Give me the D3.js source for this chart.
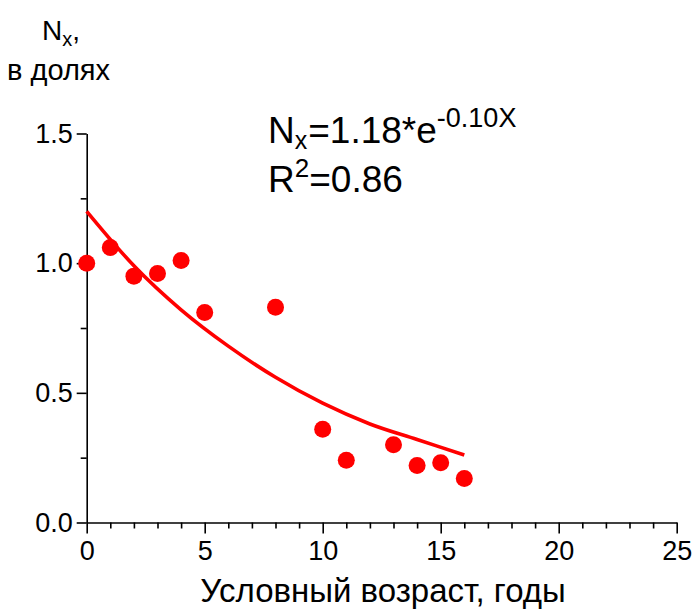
<!DOCTYPE html>
<html><head><meta charset="utf-8">
<script src="https://cdn.jsdelivr.net/npm/d3@7"></script>
<style>
html,body{margin:0;padding:0;background:#fff;}
text{font-family:"Liberation Sans",Arial,sans-serif;fill:#000;}
</style></head>
<body>
<svg id="c" width="696" height="611"></svg>
<script>
// Data
const ageX = [0, 1, 2, 3, 4, 5, 8, 10, 11, 13, 14, 15, 16];
const nxValues = [1.00, 1.06, 0.95, 0.96, 1.01, 0.81, 0.83, 0.36, 0.24, 0.30, 0.22, 0.23, 0.17];
// fitted curve points
const fitX = [0, 2, 4, 6, 8, 10, 12, 14, 16];
const fitY = [1.20, 0.99, 0.82, 0.68, 0.56, 0.46, 0.38, 0.32, 0.26];
const xMajorTicks = [0, 5, 10, 15, 20, 25];
const yMajorTicks = [0, 0.5, 1.0, 1.5];
const yMinorTicks = [0.25, 0.75, 1.25];

const svg = d3.select("#c");
const x = d3.scaleLinear().domain([0, 25]).range([86.7, 676.7]);
const y = d3.scaleLinear().domain([0, 1.5]).range([522.5, 133.5]);

// minor ticks
const xMinor = d3.range(0, 26).filter(v => v % 5 !== 0);
const gxm = svg.append("g").attr("transform", `translate(0,${y(0)})`)
  .call(d3.axisBottom(x).tickValues(xMinor).tickSize(6).tickFormat(""));
const gym = svg.append("g").attr("transform", `translate(${x(0)},0)`)
  .call(d3.axisLeft(y).tickValues(yMinorTicks).tickSize(6).tickFormat(""));
[gxm, gym].forEach(g => { g.select(".domain").remove(); g.selectAll("line").attr("stroke", "#000").attr("stroke-width", 1.6); });

const gx = svg.append("g").attr("transform", `translate(0,${y(0)})`)
  .call(d3.axisBottom(x).tickValues(xMajorTicks).tickSize(11).tickSizeOuter(0).tickPadding(7).tickFormat(d3.format("d")));
const gy = svg.append("g").attr("transform", `translate(${x(0)},0)`)
  .call(d3.axisLeft(y).tickValues(yMajorTicks).tickSize(10).tickSizeOuter(0).tickPadding(4).tickFormat(d3.format(".1f")));
[gx, gy].forEach(g => {
  g.select(".domain").attr("stroke", "#000").attr("stroke-width", 1.6);
  g.selectAll("line").attr("stroke", "#000").attr("stroke-width", 1.6);
  g.selectAll("text").attr("font-size", 27).attr("font-family", "Liberation Sans, Arial, sans-serif").attr("fill", "#000");
});

// fitted curve
const line = d3.line().x((d, i) => x(fitX[i])).y(d => y(d)).curve(d3.curveMonotoneX);
svg.append("path").datum(fitY).attr("d", line)
  .attr("fill", "none").attr("stroke", "#ff0000").attr("stroke-width", 3.6);

// points
svg.append("g").selectAll("circle").data(nxValues).join("circle")
  .attr("cx", (d, i) => x(ageX[i])).attr("cy", d => y(d)).attr("r", 8.5).attr("fill", "#ff0000");

// axis titles
svg.append("text").attr("x", 383).attr("y", 602).attr("text-anchor", "middle")
  .attr("font-size", 33).text("Условный возраст, годы");

const yl = svg.append("text").attr("x", 42).attr("y", 40).attr("font-size", 28);
yl.append("tspan").text("N");
yl.append("tspan").attr("font-size", 20).attr("dy", 6).text("x");
yl.append("tspan").attr("dy", -6).text(",");
svg.append("text").attr("x", 7).attr("y", 80).attr("font-size", 29).text("в долях");

// equation
const eq = svg.append("text").attr("x", 268).attr("y", 143).attr("font-size", 37);
eq.append("tspan").text("N");
eq.append("tspan").attr("font-size", 25).attr("dy", 6).text("x");
eq.append("tspan").attr("dy", -6).attr("dx", 1).text("=1.18*e");
eq.append("tspan").attr("font-size", 27).attr("dy", -16).text("-0.10X");
const r2 = svg.append("text").attr("x", 268).attr("y", 192).attr("font-size", 37);
r2.append("tspan").text("R");
r2.append("tspan").attr("font-size", 26).attr("dy", -15).text("2");
r2.append("tspan").attr("dy", 15).text("=0.86");
</script>
</body></html>
